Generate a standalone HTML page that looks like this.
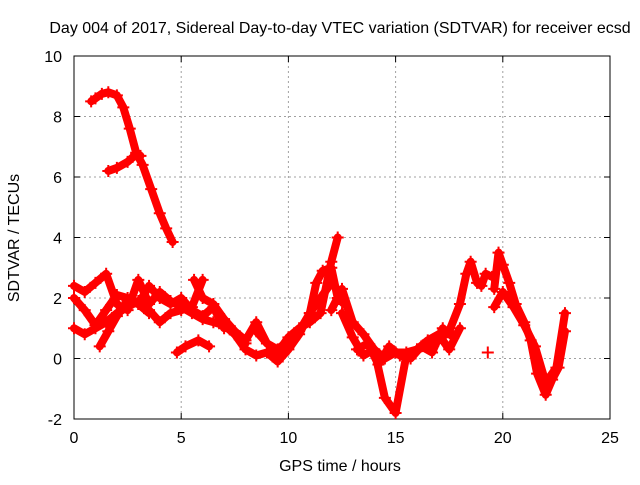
<!DOCTYPE html>
<html><head><meta charset="utf-8"><style>
body{margin:0;background:#fff}
svg text{font-family:"Liberation Sans",sans-serif;font-size:16px;fill:#000}
</style></head><body>
<svg id="chart" width="640" height="480" xmlns="http://www.w3.org/2000/svg">
<text x="340" y="33" text-anchor="middle">Day 004 of 2017, Sidereal Day-to-day VTEC variation (SDTVAR) for receiver ecsd</text>
<g id="grid"></g>
<g id="axes"></g>
<g id="series"></g>
<text x="340" y="471" text-anchor="middle">GPS time / hours</text>
<text transform="translate(19,238) rotate(-90)" text-anchor="middle">SDTVAR / TECUs</text>
</svg>
<script>
const xTicks=[0,5,10,15,20,25];
const yTicks=[-2,0,2,4,6,8,10];
const tA=[0.8,1.0,1.3,1.6,2.0,2.3,2.6,2.9,3.2,3.6,4.0,4.3,4.6];
const vA=[8.5,8.6,8.75,8.8,8.7,8.3,7.6,6.8,6.4,5.6,4.8,4.3,3.85];
const tB=[1.6,2.0,2.5,2.9,3.1];
const vB=[6.2,6.3,6.5,6.75,6.7];
const tC1=[0,0.5,1.0,1.5,2.0,2.5,3.0,3.5,4.0,4.5,5.0,5.5,6.0,6.5,7.0,7.5,8.0];
const vC1=[2.4,2.2,2.5,2.8,1.8,1.6,2.6,1.8,2.2,1.9,1.7,1.5,1.3,1.2,1.1,0.8,0.5];
const tC2=[0,0.5,1.0,1.5,2.0,2.5,3.0,3.5,4.0,4.5,5.0,5.5,6.0,6.5,7.0];
const vC2=[2.0,1.6,1.1,1.6,2.1,2.0,1.8,2.4,2.0,1.8,2.0,1.6,1.4,1.7,1.0];
const tC3=[0,0.5,1.0,1.5,2.0,2.5,3.0,3.5,4.0,4.5,5.0,5.5,6.0];
const vC3=[1.0,0.8,1.0,1.2,1.5,1.7,1.9,1.6,1.2,1.5,1.6,1.7,2.6];
const tC4=[1.2,1.6,2.0,2.5,3.0,3.5];
const vC4=[0.4,0.9,1.4,1.9,1.8,1.5];
const tC5=[4.8,5.2,5.8,6.3];
const vC5=[0.2,0.4,0.6,0.4];
const tC6=[5.6,6.0,6.5,7.0,7.5,8.0,8.5,9.0,9.5,10,10.5,11,11.5,12];
const vC6=[2.6,2.0,1.8,1.3,0.9,0.6,1.2,0.5,0.3,0.6,0.9,1.5,2.0,2.5];
const tD=[7,7.5,8,8.5,9,9.5,10,10.5,11,11.3,11.6,12,12.3,12.6];
const vD=[1.2,0.8,0.3,0.1,0.2,-0.1,0.3,0.8,1.5,2.5,2.9,3.0,2.0,1.8];
const tD2=[8.5,9,9.5,10,10.5,11,11.5,12,12.3];
const vD2=[0.9,0.5,0.2,0.7,1.0,1.2,1.5,3.2,4.0];
const tE=[12,12.5,13,13.5,14,14.5,15,15.5,16,16.5,17,17.5,18,18.3,18.5,18.8,19,19.2,19.5];
const vE=[1.6,2.3,1.2,0.8,0.3,-1.3,-1.8,0.1,0.3,0.4,0.6,0.9,1.8,2.8,3.2,2.5,2.4,2.8,2.7];
const tE2=[12.5,13,13.5,14,14.5,15,15.5,16,16.5,17,17.5,18];
const vE2=[1.5,0.7,0.1,0.3,0.0,0.2,0.2,0.3,0.6,0.8,0.3,1.0];
const tE3=[13.2,13.7,14.2,14.7,15.2,15.7,16.2,16.7,17.2,17.7];
const vE3=[0.3,0.5,-0.2,0.4,0.1,0.0,0.4,0.2,1.0,0.7];
const tF=[19.6,19.8,20,20.3,20.6,21,21.3,21.6,22,22.3,22.6,22.9];
const vF=[2.3,3.5,3.1,2.5,1.8,1.2,0.6,-0.5,-1.2,-0.7,-0.3,0.9];
const tF2=[19.6,20,20.5,21,21.5,22,22.5,22.9];
const vF2=[1.7,2.2,1.7,1.1,0.4,-0.8,-0.3,1.5];
const tG=[19.3];
const vG=[0.2];
const tracks=[[tA,vA],[tB,vB],[tC1,vC1],[tC2,vC2],[tC3,vC3],[tC4,vC4],[tC5,vC5],[tC6,vC6],[tD,vD],[tD2,vD2],[tE,vE],[tE2,vE2],[tE3,vE3],[tF,vF],[tF2,vF2],[tG,vG]];

const L=74,R=610,T=56,B=419;
const xs=t=>L+(t-0)/25*(R-L);
const ys=v=>B-(v+2)/12*(B-T);
const NS="http://www.w3.org/2000/svg";
function mk(tag,attrs,parent){const e=document.createElementNS(NS,tag);for(const k in attrs)e.setAttribute(k,attrs[k]);parent.appendChild(e);return e;}
const grid=document.getElementById('grid'),axes=document.getElementById('axes'),ser=document.getElementById('series');
xTicks.forEach(t=>{
  const x=xs(t);
  if(t>0&&t<25){const g=mk('line',{x1:x,x2:x,y1:T,y2:B,stroke:'#a0a0a0','stroke-dasharray':'2,3'},grid);
  
  }
  mk('line',{x1:x,x2:x,y1:B,y2:B-6,stroke:'#000'},axes);
  mk('line',{x1:x,x2:x,y1:T,y2:T+6,stroke:'#000'},axes);
  const lb=mk('text',{x:x,y:B+24,'text-anchor':'middle'},axes);lb.textContent=t;
  
  
});
yTicks.forEach(v=>{
  const y=ys(v);
  if(v>-2&&v<10){const g=mk('line',{x1:L,x2:R,y1:y,y2:y,stroke:'#a0a0a0','stroke-dasharray':'2,3'},grid);
  
  }
  mk('line',{x1:L,x2:L+6,y1:y,y2:y,stroke:'#000'},axes);
  mk('line',{x1:R,x2:R-6,y1:y,y2:y,stroke:'#000'},axes);
  const lb=mk('text',{x:L-12,y:y+6,'text-anchor':'end'},axes);lb.textContent=v;
  
  
});
const fr=mk('rect',{x:L,y:T,width:R-L,height:B-T,fill:'none',stroke:'#000'},axes);


tracks.forEach(([t,v])=>{
  const pts=t.map((ti,i)=>xs(ti)+','+ys(v[i])).join(' ');
  const pl=mk('polyline',{points:pts,fill:'none',stroke:'#ff0000','stroke-width':8,'stroke-linejoin':'round','stroke-linecap':'round'},ser);
  
  
  t.forEach((ti,i)=>{
    const x=xs(ti),y=ys(v[i]);
    const p=mk('path',{d:`M${x-6},${y}h12M${x},${y-6}v12`,stroke:'#ff0000','stroke-width':2},ser);
    
    
  });
});
</script>
</body></html>
